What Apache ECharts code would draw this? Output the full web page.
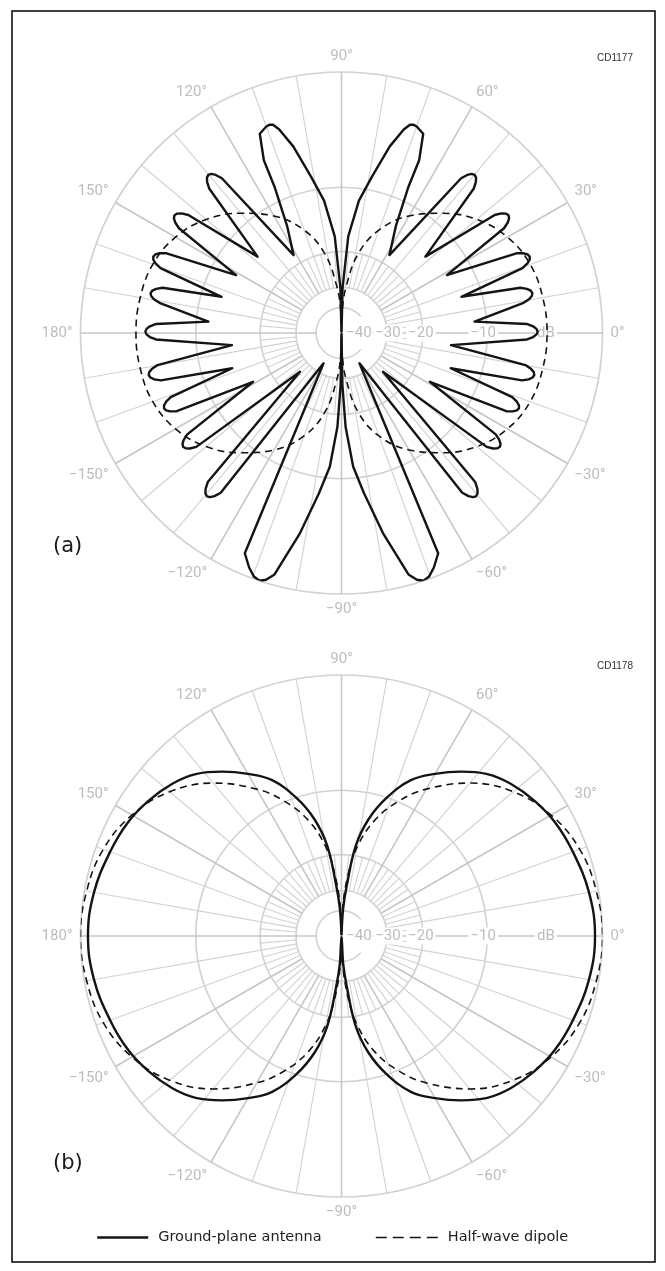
<!DOCTYPE html>
<html>
<head>
<meta charset="utf-8">
<script src="https://cdn.jsdelivr.net/npm/echarts@6/dist/echarts.min.js"></script>
<style>
  html, body { margin: 0; padding: 0; background: #fff; }
  #c { width: 665px; height: 1271px; }
</style>
</head>
<body>
<div id="c"></div>
<script>
// ---------------------------------------------------------------------------
// Data: elevation patterns, [angle in degrees, relative level in dB]
// ---------------------------------------------------------------------------

// (a) ground-plane antenna, right side of the mast (90° down to -90°)
const gpA_right = [
  [90,-100],[88.6,-30],[86,-17],[82.5,-11.5],[79,-8.5],[75.5,-5.2],[73,-3.5],[71.8,-3.0],[71,-2.9],[70,-2.95],
  [67.7,-3.3],[65.8,-5.5],[65.4,-8.3],[63,-13.4],[58.4,-18],
  [52.3,-4.95],[51.5,-4.4],[50.7,-4.1],[49.9,-4.0],[49.1,-4.1],[48.3,-4.4],[47.5,-4.95],[42.3,-14.3],
  [37.6,-5.15],[36.8,-4.6],[36,-4.3],[35.2,-4.2],[34.4,-4.3],[33.6,-4.6],[32.8,-5.15],[28.8,-13.3],
  [24.5,-5.25],[23.7,-4.7],[22.9,-4.4],[22.1,-4.3],[21.3,-4.4],[20.5,-4.7],[19.7,-5.25],[16.8,-12.6],
  [14.2,-5.95],[13.4,-5.4],[12.6,-5.1],[11.8,-5.0],[11,-5.1],[10.2,-5.4],[9.4,-5.95],[4.9,-11.5],
  [2.8,-5.85],[2,-5.3],[1.2,-5.0],[0.4,-4.9],[-0.4,-5.0],[-1.2,-5.3],[-2,-5.85],[-6.3,-14.8],
  [-9.9,-5.75],[-10.7,-5.2],[-11.5,-4.9],[-12.3,-4.8],[-13.1,-4.9],[-13.9,-5.2],[-14.7,-5.75],[-17.9,-14.1],
  [-20.6,-6.15],[-21.4,-5.6],[-22.2,-5.3],[-23,-5.2],[-23.8,-5.3],[-24.6,-5.6],[-25.4,-6.15],[-28.9,-16.3],
  [-33.3,-5.95],[-34.1,-5.4],[-34.9,-5.1],[-35.7,-5.0],[-36.5,-5.1],[-37.3,-5.4],[-38.1,-5.95],[-43,-26.2],
  [-48.1,-4.55],[-48.9,-4.0],[-49.7,-3.7],[-50.5,-3.6],[-51.3,-3.7],[-52.1,-4.0],[-52.9,-4.55],[-59.3,-34.4],
  [-66.3,-1.4],[-68.5,-0.6],[-70.2,-0.15],[-71.7,0],[-73,-0.2],[-74.5,-0.7],[-78.3,-4.2],[-82,-8.2],
  [-85,-11.4],[-87.5,-17.5],[-89,-27.6],[-90,-100]
];

// (a) ground-plane antenna, left side of the mast (270° back up to 90°)
const gpA_left = [
  [270,-100],[269,-27.6],[267.5,-17.5],[265,-11.4],[262,-8.2],[258.3,-4.2],[254.5,-0.7],[253,-0.2],
  [251.7,0],[250.2,-0.15],[248.5,-0.6],[246.3,-1.4],[239.3,-34.4],
  [232.9,-4.55],[232.1,-4.0],[231.3,-3.7],[230.5,-3.6],[229.7,-3.7],[228.9,-4.0],[228.1,-4.55],[223,-26.2],
  [218.1,-5.95],[217.3,-5.4],[216.5,-5.1],[215.7,-5.0],[214.9,-5.1],[214.1,-5.4],[213.3,-5.95],[208.9,-16.3],
  [205.4,-6.15],[204.6,-5.6],[203.8,-5.3],[203,-5.2],[202.2,-5.3],[201.4,-5.6],[200.6,-6.15],[197.9,-14.1],
  [194.7,-5.75],[193.9,-5.2],[193.1,-4.9],[192.3,-4.8],[191.5,-4.9],[190.7,-5.2],[189.9,-5.75],[186.3,-14.8],
  [182,-5.85],[181.2,-5.3],[180.4,-5.0],[179.6,-4.9],[178.8,-5.0],[178,-5.3],[177.2,-5.85],[175.1,-11.5],
  [170.6,-5.95],[169.8,-5.4],[169,-5.1],[168.2,-5.0],[167.4,-5.1],[166.6,-5.4],[165.8,-5.95],[163.2,-12.6],
  [160.3,-5.25],[159.5,-4.7],[158.7,-4.4],[157.9,-4.3],[157.1,-4.4],[156.3,-4.7],[155.5,-5.25],[151.2,-13.3],
  [147.2,-5.15],[146.4,-4.6],[145.6,-4.3],[144.8,-4.2],[144,-4.3],[143.2,-4.6],[142.4,-5.15],[137.7,-14.3],
  [132.5,-4.95],[131.7,-4.4],[130.9,-4.1],[130.1,-4.0],[129.3,-4.1],[128.5,-4.4],[127.7,-4.95],[121.6,-18],
  [117,-13.4],[114.6,-8.3],[114.2,-5.5],[112.3,-3.3],[110,-2.95],[109,-2.9],[108.2,-3.0],[107,-3.5],
  [104.5,-5.2],[101,-8.5],[97.5,-11.5],[94,-17],[91.4,-30],[90,-100]
];

// (a) half-wave dipole
const dipA_right = [
  [90,-100],[88,-42],[84,-29],[78,-20],[70,-14.9],[60,-11.3],[50,-8.8],[40,-6.7],[30,-5.3],[20,-4.5],
  [10,-4.2],[0,-4.1],[-10,-4.2],[-20,-4.5],[-30,-5.3],[-40,-6.7],[-50,-8.8],[-60,-11.3],[-70,-14.9],
  [-78,-20],[-84,-29],[-88,-42],[-90,-100]
];
const dipA_left = [
  [270,-100],[268,-42],[264,-29],[258,-20],[250,-14.9],[240,-11.3],[230,-8.8],[220,-6.7],[210,-5.3],
  [200,-4.5],[190,-4.2],[180,-4.1],[170,-4.2],[160,-4.5],[150,-5.3],[140,-6.7],[130,-8.8],[120,-11.3],
  [110,-14.9],[102,-20],[96,-29],[92,-42],[90,-100]
];

// (b) ground-plane antenna
const gpB_right = [
  [90,-100],[86.5,-38],[84,-28],[81,-18],[77,-13.4],[72,-10.1],[66,-7.3],[60,-5.7],[54,-4.3],[48,-3.1],
  [42,-2.35],[35,-1.75],[28,-1.3],[20,-1.0],[10,-0.65],[0,-0.5],[-10,-0.65],[-20,-1.0],[-28,-1.3],
  [-35,-1.75],[-42,-2.35],[-48,-3.1],[-54,-4.3],[-60,-5.7],[-66,-7.3],[-72,-10.1],[-77,-13.4],[-81,-18],
  [-84,-28],[-86.5,-38],[-90,-100]
];
const gpB_left = [
  [270,-100],[266.5,-38],[264,-28],[261,-18],[257,-13.4],[252,-10.1],[246,-7.3],[240,-5.7],[234,-4.3],
  [228,-3.1],[222,-2.35],[215,-1.75],[208,-1.3],[200,-1.0],[190,-0.65],[180,-0.5],[170,-0.65],[160,-1.0],
  [152,-1.3],[145,-1.75],[138,-2.35],[132,-3.1],[126,-4.3],[120,-5.7],[114,-7.3],[108,-10.1],[103,-13.4],
  [99,-18],[96,-28],[93.5,-38],[90,-100]
];

// (b) half-wave dipole
const dipB_right = [
  [90,-100],[88,-40],[84,-25],[80,-18.2],[74,-13.3],[67,-9.9],[60,-7.4],[50,-4.6],[40,-2.6],[30,-1.3],
  [20,-0.5],[10,-0.15],[0,0],[-10,-0.15],[-20,-0.5],[-30,-1.3],[-40,-2.6],[-50,-4.6],[-60,-7.4],
  [-67,-9.9],[-74,-13.3],[-80,-18.2],[-84,-25],[-88,-40],[-90,-100]
];
const dipB_left = [
  [270,-100],[268,-40],[264,-25],[260,-18.2],[254,-13.3],[247,-9.9],[240,-7.4],[230,-4.6],[220,-2.6],
  [210,-1.3],[200,-0.5],[190,-0.15],[180,0],[170,-0.15],[160,-0.5],[150,-1.3],[140,-2.6],[130,-4.6],
  [120,-7.4],[113,-9.9],[106,-13.3],[100,-18.2],[96,-25],[92,-40],[90,-100]
];

// Grid rings and their labels along the 0° line
const ringDb = [-40, -30, -20, -10];
const ringLabels = ['\u221240', '\u221230', '\u221220', '\u221210'];
const unitLabel = 'dB';
const unitDb = -4.2;
const angleTicks = [0, 30, 60, 90, 120, 150, 180, 210, 240, 270, 300, 330];

const seriesNames = ['Ground-plane antenna', 'Half-wave dipole'];

// ---------------------------------------------------------------------------
// ARRL log-periodic radial scale: radius shrinks by 0.89 for every 2 dB
const toR = db => Math.pow(0.89, -db / 2);
const toPolar = pts => pts.map(([a, db]) => [toR(db), (a + 360) % 360]);

const GRID = '#d2d2d2';
const GRID_MAJOR = '#c6c6c6';
const LABEL_GREY = '#bdbdbd';
const INK = '#141414';

// spokes: [inner radius, angle, outer radius, major flag]
function buildSpokes() {
  const out = [];
  for (let a = 0; a < 360; a += 5) {
    if (a % 90 === 0) out.push([toR(-40), a, 1, 1]);
    else if (a % 30 === 0) out.push([toR(-30), a, 1, 1]);
    else if (a % 10 === 0) out.push([toR(-30), a, 1, 0]);
    else out.push([toR(-30), a, toR(-20), 0]);
  }
  return out;
}
const spokeData = buildSpokes();

function spokeItem(params, api) {
  const a = api.value(1);
  const p1 = api.coord([api.value(0), a]);
  const p2 = api.coord([api.value(2), a]);
  const major = api.value(3) === 1;
  return {
    type: 'line',
    shape: { x1: p1[0], y1: p1[1], x2: p2[0], y2: p2[1] },
    style: { stroke: major ? GRID_MAJOR : GRID, lineWidth: major ? 1.6 : 1.1 }
  };
}

function ringItem(params, api) {
  const c = api.coord([0, 0]);
  const p = api.coord([api.value(0), 0]);
  return {
    type: 'circle',
    shape: { cx: c[0], cy: c[1], r: Math.hypot(p[0] - c[0], p[1] - c[1]) },
    style: { fill: 'none', stroke: GRID, lineWidth: 1.6 }
  };
}

// small pixel nudges so each figure sits over its ring as printed
const labelNudge = [-8, 1, -2, -4, 0];
const labelTexts = ringLabels.concat([unitLabel]);
const labelData = ringDb.concat([unitDb]).map(db => [toR(db), 0]);

function dbLabelItem(params, api) {
  const i = params.dataIndex;
  const p = api.coord([api.value(0), 0]);
  const tall = i === 0;
  return {
    type: 'text',
    x: p[0] + labelNudge[i],
    y: p[1],
    style: {
      text: labelTexts[i],
      fill: LABEL_GREY,
      font: '15px Roboto',
      align: 'center', textAlign: 'center',
      verticalAlign: 'middle', textVerticalAlign: 'middle',
      backgroundColor: '#fff',
      padding: tall ? [9, 1, 9, 1] : [1, 2, 1, 2]
    }
  };
}

function gridSeries(idx) {
  return [
    { type: 'custom', coordinateSystem: 'polar', polarIndex: idx, z: 1, silent: true,
      data: ringDb.map(db => [toR(db), 0]), renderItem: ringItem },
    { type: 'custom', coordinateSystem: 'polar', polarIndex: idx, z: 1, silent: true,
      data: spokeData, renderItem: spokeItem },
    { type: 'custom', coordinateSystem: 'polar', polarIndex: idx, z: 2, silent: true,
      data: labelData, renderItem: dbLabelItem }
  ];
}

function patternSeries(idx, name, pts, dashed, smooth) {
  return {
    type: 'line', name: name, coordinateSystem: 'polar', polarIndex: idx, z: 3,
    data: toPolar(pts), symbol: 'none', showSymbol: false, smooth: smooth,
    silent: true, animation: false,
    lineStyle: dashed
      ? { color: INK, width: 1.6, type: [7, 5] }
      : { color: INK, width: 2.4, join: 'round' },
    itemStyle: { color: INK }
  };
}

function angleAxis(idx) {
  return {
    polarIndex: idx, type: 'value', min: 0, max: 360, interval: 30,
    startAngle: 0, clockwise: false,
    axisLine: { show: true, lineStyle: { color: GRID, width: 1.7 } },
    axisTick: { show: false },
    splitLine: { show: false },
    axisLabel: {
      show: true, margin: 8, color: LABEL_GREY, fontSize: 15, fontFamily: 'Roboto',
      customValues: angleTicks,
      formatter: v => {
        if (v >= 360) return '';
        const d = v > 180 ? v - 360 : v;
        return (d < 0 ? '\u2212' + (-d) : d) + '\u00b0';
      }
    }
  };
}

function radiusAxis(idx) {
  return {
    polarIndex: idx, type: 'value', min: 0, max: 1,
    axisLine: { show: false }, axisTick: { show: false },
    axisLabel: { show: false }, splitLine: { show: false }
  };
}

const legendText = { color: '#222', fontSize: 14.5, fontFamily: '"DejaVu Sans"', padding: [0, 0, 0, 5] };
const hiddenSymbol = { opacity: 0, color: 'rgba(0,0,0,0)', borderWidth: 0 };

const chart = echarts.init(document.getElementById('c'), null, { renderer: 'canvas', width: 665, height: 1271 });

chart.setOption({
  backgroundColor: '#fff',
  animation: false,
  polar: [
    { center: [341.5, 333], radius: 261 },
    { center: [341.5, 936], radius: 261 }
  ],
  angleAxis: [angleAxis(0), angleAxis(1)],
  radiusAxis: [radiusAxis(0), radiusAxis(1)],
  legend: [
    {
      data: [{ name: seriesNames[0], itemStyle: hiddenSymbol, lineStyle: { width: 2.4 } }],
      left: 96, top: 1230, padding: 0, itemWidth: 51, itemHeight: 18, selectedMode: false,
      itemStyle: hiddenSymbol,
      textStyle: legendText
    },
    {
      data: [{ name: seriesNames[1], itemStyle: hiddenSymbol, lineStyle: { type: [11, 6], width: 1.6 } }],
      left: 375, top: 1230, padding: 0, itemWidth: 62, itemHeight: 18, selectedMode: false,
      itemStyle: hiddenSymbol,
      textStyle: legendText
    }
  ],
  graphic: [
    { type: 'rect', silent: true, z: 0,
      shape: { x: 12, y: 11, width: 643, height: 1251 },
      style: { fill: 'none', stroke: '#000', lineWidth: 1.5 } },
    { type: 'text', left: 53, top: 536, silent: true,
      style: { text: '(a)', fill: '#1a1a1a', font: '21px "DejaVu Sans"' } },
    { type: 'text', left: 53, top: 1153, silent: true,
      style: { text: '(b)', fill: '#1a1a1a', font: '21px "DejaVu Sans"' } },
    { type: 'text', left: 597, top: 53, silent: true,
      style: { text: 'CD1177', fill: '#333', font: '10px "Liberation Sans Narrow", "Liberation Sans", sans-serif' } },
    { type: 'text', left: 597, top: 661, silent: true,
      style: { text: 'CD1178', fill: '#333', font: '10px "Liberation Sans Narrow", "Liberation Sans", sans-serif' } }
  ],
  series: [
    ...gridSeries(0),
    ...gridSeries(1),
    patternSeries(0, seriesNames[0], gpA_right.concat(gpA_left), false, false),
    patternSeries(0, seriesNames[1], dipA_right.concat(dipA_left), true, 0.4),
    patternSeries(1, seriesNames[0], gpB_right.concat(gpB_left), false, 0.4),
    patternSeries(1, seriesNames[1], dipB_right.concat(dipB_left), true, 0.4)
  ]
});
</script>
</body>
</html>
